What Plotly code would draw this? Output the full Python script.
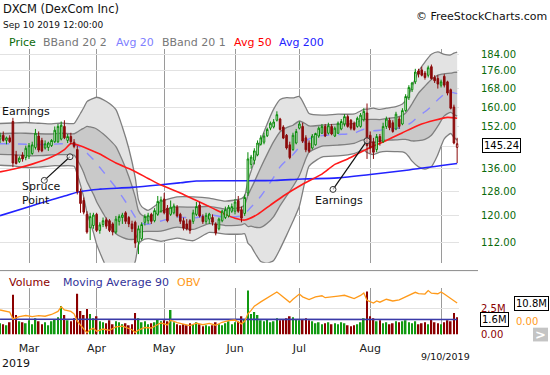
import math
import plotly.graph_objects as go

W, H = 550, 375
FONT = "DejaVu Sans"


def px(x):
    return x / W


def py(y):
    return 1 - y / H


# ---------------- data ----------------
month_idx = [9, 30, 51, 73, 93, 115, 137]
month_lbl = ["Mar", "Apr", "May", "Jun", "Jul", "Aug", ""]
price_ticks = [112, 120, 128, 136, 144, 152, 160, 168, 176, 184]

opens = [147, 148.5, 146.5, 147.5, 154, 141, 138.5, 141, 140, 140.5,
         141.5, 143.8, 148.2, 146.5, 143.6, 143.8, 144.5, 146, 146, 147,
         152, 146.5, 148, 145.8, 143, 128, 125, 120.5, 116.3, 117,
         120.5, 115.5, 117.3, 118.8, 118.5, 117.5, 115, 118.3, 119.5, 121,
         119.5, 117.5, 118, 112, 113, 118, 118.5, 120.5, 118.5, 120.5,
         121.5, 125.5, 122.5, 120.5, 121, 122.8, 120.5, 118.5, 117.5, 118.5,
         118.3, 120.5, 123.5, 119.8, 118.3, 119, 119.5, 117.5, 116, 118.5,
         119.5, 120, 121.5, 121.5, 125, 122, 120.8, 127.5, 137.5, 139,
         141, 145, 145.8, 148.3, 151.3, 151.8, 154.5, 155, 151.8, 148.5,
         144.8, 143, 145.5, 151.3, 152, 147.5, 145.5, 143.6, 144.8, 148.2,
         149.3, 152, 149.3, 152, 148.2, 149.3, 151, 153, 156, 154.5,
         153.3, 152, 152, 154.7, 157.5, 148.5, 146, 143, 148, 146,
         152, 154.5, 153.5, 151, 155, 153, 158.5, 164, 167.5, 171,
         176, 176.5, 175, 174, 178, 173, 172.5, 169.5, 173.5, 171,
         167.5, 160, 143.8]
highs = [149.5, 150, 148, 148.5, 155.5, 142.5, 140.5, 142, 144.5, 145.5,
         146, 151, 150, 147.5, 146.5, 146, 147, 152, 153, 154,
         154.5, 149, 149.5, 147, 144.5, 129, 126, 121.5, 121, 121,
         121, 118, 119.5, 119.5, 119, 118, 120, 120.5, 121, 121.5,
         120, 118.5, 118.5, 117, 118, 120.5, 121, 121, 122.5, 126.5,
         126.3, 127.5, 123.5, 125, 124, 123.5, 121, 119.5, 119, 119,
         122, 124.5, 124.5, 120.5, 121, 121, 120.5, 118, 119.5, 122,
         123, 123.5, 124, 125.5, 126.5, 123, 127, 142, 141, 143.5,
         146.5, 148.5, 149.5, 151.5, 154, 155, 158.2, 155.5, 152.5, 149,
         146, 149.5, 151, 154, 153.5, 148.5, 146.5, 149, 149.5, 152,
         153, 153, 153.5, 153, 152, 154, 155, 157, 156.8, 155,
         154, 156, 157.5, 159.5, 161.5, 150, 147.5, 149, 149, 153.5,
         156, 155.5, 154.5, 158, 156, 159.5, 165.5, 169.5, 171, 177,
         177, 178, 176, 178.5, 179, 174, 174, 172, 174.5, 171.5,
         168, 161, 147.5]
lows = [145.5, 146, 145, 145.5, 136.5, 137.5, 138, 138.5, 139, 139.5,
        141, 143, 142, 142, 143, 142.5, 144, 145.5, 145.5, 146.5,
        147, 145.5, 145, 143.5, 127, 121, 120.5, 114.5, 112.6, 116,
        115, 114.5, 116.5, 116, 115, 114, 114.5, 117, 117.5, 117.5,
        116.5, 115, 110.3, 108.5, 112.5, 117, 117.5, 117.5, 118, 120,
        121, 120.5, 118, 120, 120.5, 119.5, 117.5, 115.5, 115.5, 114.5,
        117.5, 120, 119.5, 117.5, 117.5, 117.5, 117, 114, 115.5, 118,
        119, 119.5, 121, 120.5, 121, 118, 120, 126.5, 136, 137.5,
        140.5, 144.5, 145, 147.8, 150.5, 151.2, 154, 150.3, 147, 143,
        139.4, 142.5, 145, 150.8, 145.5, 142, 141.8, 143, 144.5, 147.5,
        149, 147.8, 148.8, 148.5, 147.8, 149, 150.5, 152, 151.5, 150.5,
        150.3, 151.5, 151.5, 154, 139.5, 141.5, 139.5, 142, 144.5, 145.5,
        151, 150.5, 149.5, 150.5, 151, 152.5, 158, 163, 166.5, 170,
        173, 173.5, 172, 173, 172, 170.5, 168, 168.5, 168.5, 165,
        159, 145, 138]
closes = [148.5, 146.5, 147.5, 146, 138, 137.8, 139.8, 139.5, 143.5, 144.5,
          144.8, 149.3, 142.8, 142.5, 145.2, 145.5, 146.5, 150.5, 152, 152.5,
          147.5, 148, 146, 144.2, 128, 124, 121.2, 115, 119.8, 120.3,
          115.5, 117.2, 118.5, 116.8, 115.5, 115, 119, 119.8, 120.3, 118.3,
          117.5, 116, 111.7, 116, 117.3, 119.8, 120.2, 118.3, 121.7, 124.7,
          125.2, 121, 118.5, 122.8, 123.2, 120, 118.3, 116.2, 116, 115.5,
          121, 123, 120, 118.2, 120.2, 120.6, 118, 114.7, 119, 121.5,
          122, 122.8, 123, 124.5, 121.5, 119.3, 126, 139.5, 140.2, 142.5,
          145.5, 147.5, 148.2, 150.8, 153.3, 153.8, 156.8, 150.8, 147.4, 143.6,
          140, 148.5, 150, 153, 146.2, 142.9, 142.4, 148.2, 149.2, 151.3,
          152, 148.2, 152.3, 149, 151.3, 153.3, 154, 156, 152, 151.3,
          150.8, 155.3, 156.6, 158.2, 144.5, 143.5, 142, 148, 146, 152,
          155, 151.5, 150, 157, 152, 158.5, 164.5, 168.5, 170.5, 175.5,
          174.5, 174, 173, 177.5, 172.5, 171.5, 170, 171, 169.5, 166,
          159.5, 145.5, 145.24]

volume_m = [1.1, 1.0, 0.9, 1.2, 3.9, 1.9, 1.3, 1.2, 1.1, 1.4,
            1.0, 1.6, 1.3, 1.0, 1.2, 0.9, 1.3, 1.5, 1.7, 2.8,
            1.9, 1.4, 1.3, 1.6, 4.0, 2.3, 1.9, 2.5, 2.0, 1.6,
            1.8, 1.3, 1.2, 1.1, 1.4, 1.0, 1.3, 1.2, 1.0, 1.1,
            0.9, 1.0, 2.1, 1.6, 1.2, 1.3, 1.0, 1.1, 1.2, 1.5,
            1.3, 1.4, 1.3, 2.4, 1.2, 1.0, 0.9, 1.0, 0.9, 1.1,
            1.0, 1.2, 1.0, 0.8, 0.9, 0.8, 0.9, 1.2, 1.0, 0.9,
            1.1, 1.3, 1.0, 1.2, 1.3, 1.8, 1.5, 4.3, 2.0, 2.2,
            1.9, 1.4, 1.3, 1.5, 1.2, 1.3, 1.6, 1.4, 1.5, 1.6,
            1.8, 1.7, 1.5, 1.4, 1.5, 1.6, 1.4, 1.3, 1.1, 1.2,
            1.0, 1.1, 1.2, 1.0, 1.1, 1.0, 1.2, 1.1, 0.9, 0.8,
            0.9, 1.0, 1.2, 1.6, 4.2, 1.8, 1.6, 1.3, 1.4, 1.1,
            1.2, 1.0, 1.1, 1.3, 1.2, 1.3, 1.4, 1.2, 1.1, 1.3,
            1.0, 1.1, 1.2, 1.0, 1.5, 1.2, 1.1, 1.0, 1.2, 1.4,
            1.3, 2.1, 1.7]

bb_i = [0, 4, 8, 12, 16, 19, 23, 24, 25, 26, 27, 28, 29, 30, 32, 34, 36, 38, 40,
        42, 43, 44, 46, 50, 55, 60, 65, 70, 75, 76, 77, 78, 79, 81, 83, 85, 87,
        89, 91, 93, 95, 96, 100, 105, 110, 113, 114, 116, 118, 120, 123, 125,
        126, 127, 128, 130, 132, 134, 136, 138, 140, 141, 142]
bb2_up = [153.2, 153.4, 153.6, 153.3, 153.0, 153.4, 153.2, 155.1, 157.4, 159.7,
          162.3, 163.1, 163.7, 164.2, 163.2, 161.5, 158.9, 151.8, 143.4, 132.8,
          125.2, 123.0, 121.8, 124.6, 126.2, 126.2, 125.8, 124.8, 125.6, 126.6,
          131.7, 135.1, 138.7, 146.4, 153.1, 159.1, 163.2, 164.0, 163.9, 164.5,
          159.7, 157.3, 156.6, 157.0, 157.1, 159.0, 159.1, 159.5, 159.0, 159.5,
          160.2, 161.3, 162.8, 165.5, 168.9, 175.8, 180.2, 183.9, 185.1, 183.9,
          183.6, 184.5, 185.0]
bb1_up = [149.2, 149.3, 149.3, 149.1, 149.0, 149.3, 149.1, 149.8, 150.6, 151.3,
          152.0, 151.8, 151.5, 151.0, 149.1, 146.8, 144.1, 139.0, 133.2, 126.2,
          121.7, 120.3, 119.6, 121.5, 122.9, 122.8, 123.1, 122.2, 122.8, 123.6,
          126.7, 129.0, 131.3, 136.4, 141.3, 146.0, 149.9, 151.5, 152.5, 154.2,
          153.0, 152.2, 152.5, 152.9, 153.2, 155.0, 154.8, 154.9, 154.8, 155.2,
          155.7, 156.5, 157.5, 159.2, 161.4, 166.0, 169.1, 172.1, 174.1, 174.7,
          175.0, 175.3, 175.4]
bb_mid = [145.2, 145.2, 145.0, 144.9, 145.0, 145.2, 145.0, 144.5, 143.8, 142.9,
          141.7, 140.5, 139.3, 137.8, 135.0, 132.1, 129.3, 126.2, 123.0, 119.6,
          118.2, 117.7, 117.4, 118.4, 119.7, 119.3, 120.4, 119.6, 120.0, 120.6,
          121.7, 122.9, 123.9, 126.4, 129.5, 132.9, 136.6, 139.0, 141.1, 143.9,
          146.3, 147.1, 148.4, 148.8, 149.3, 150.9, 150.5, 150.3, 150.5, 150.9,
          151.2, 151.7, 152.2, 152.9, 153.8, 156.2, 158.0, 160.3, 163.1, 165.5,
          166.4, 166.1, 165.8]
bb1_lo = [141.2, 141.1, 140.7, 140.7, 141.0, 141.1, 140.9, 139.2, 137.0, 134.5,
          131.4, 129.2, 127.1, 124.6, 120.9, 117.4, 114.5, 113.4, 112.8, 113.0,
          114.7, 115.1, 115.2, 115.3, 116.5, 115.8, 117.6, 117.0, 117.2, 117.6,
          116.7, 116.8, 116.5, 116.4, 117.7, 119.8, 123.3, 126.5, 129.7, 133.5,
          139.6, 142.0, 144.3, 144.7, 145.4, 146.8, 146.2, 145.7, 146.2, 146.6,
          146.7, 146.9, 146.9, 146.6, 146.3, 146.4, 146.9, 148.5, 152.1, 156.3,
          157.8, 156.9, 156.2]
bb2_lo = [137.2, 137.0, 136.4, 136.5, 137.0, 137.0, 136.8, 133.9, 130.2, 126.1,
          121.1, 117.9, 114.9, 111.4, 106.8, 102.7, 99.7, 100.6, 102.6, 106.4,
          111.2, 112.4, 113.0, 112.2, 113.2, 112.4, 114.9, 114.4, 114.4, 114.5,
          111.7, 110.7, 109.1, 106.4, 105.9, 106.7, 110.0, 114.0, 118.3, 123.2,
          132.9, 136.9, 140.2, 140.6, 141.5, 142.8, 141.9, 141.1, 142.0, 142.3,
          142.2, 142.1, 141.6, 140.3, 138.7, 136.6, 135.8, 136.7, 141.1, 147.1,
          149.2, 147.7, 146.6]

sma50_i = [0, 5, 10, 16, 20, 22, 24, 27, 31, 36, 41, 46, 50, 56, 61, 66, 70, 73,
           76, 80, 84, 88, 94, 100, 104, 108, 112, 115, 120, 125, 130, 135, 139, 142]
sma50 = [134.8, 136, 137.6, 140.2, 143, 145.3, 144.8, 143.4, 141.3, 138, 135.5,
         132.5, 130.2, 127.5, 125, 122.5, 120.5, 119.3, 118.7, 120.5, 123.5, 126.5,
         130.5, 134, 137.5, 139.5, 142, 143.8, 146.5, 149.5, 152.5, 154.5, 155.7,
         155.3]
sma200_i = [0, 10, 20, 25, 31, 41, 50, 56, 61, 73, 85, 94, 105, 115, 127, 142]
sma200 = [120.1, 123.3, 126.5, 128, 128.8, 129.4, 130.3, 131, 131.6, 131.7, 131.8,
          132.3, 132.7, 133.9, 135.5, 137.8]

ma90_i = [0, 30, 60, 77, 90, 106, 110, 142]
ma90_m = [1.5, 1.5, 1.47, 1.45, 1.52, 1.5, 1.45, 1.47]

obv_i = [0, 2, 3, 4, 6, 8, 10, 12, 14, 16, 18, 19, 20, 22, 23, 24, 25, 26, 27, 28,
         29, 30, 32, 34, 36, 38, 40, 41, 42, 43, 45, 47, 49, 50, 52, 53, 55, 57,
         59, 61, 63, 65, 67, 69, 71, 73, 75, 76, 77, 78, 79, 81, 83, 85, 86, 87,
         89, 90, 91, 92, 93, 94, 96, 98, 100, 101, 103, 105, 107, 109, 110, 112,
         113, 114, 116, 117, 118, 120, 122, 124, 126, 128, 129, 130, 132, 133,
         134, 136, 137, 138, 139, 140, 141, 142]
obv_m = [6.8, 6.0, 5.6, 1.7, 3.0, 3.6, 3.0, 3.5, 3.2, 4.2, 6.0, 8.7, 6.8, 6.0, 4.6,
         0.4, -2.0, -4.0, -6.4, -4.5, -3.8, -5.5, -4.2, -5.0, -3.0, -2.5, -3.8,
         -4.6, -6.2, -4.8, -3.3, -3.6, -1.6, -0.7, -1.8, 0.9, -0.5, -1.5, -2.2,
         -0.8, -1.7, -0.9, -2.0, -0.3, 0.6, 1.0, -1.2, 0.3, 4.6, 6.6, 9.0, 11.5,
         13.8, 15.8, 17.2, 15.8, 12.7, 11.2, 13.0, 14.6, 16.0, 14.4, 12.8, 14.4,
         15.0, 13.9, 14.2, 14.8, 15.3, 14.0, 13.4, 15.2, 16.6, 12.4, 10.8, 12.0,
         11.3, 13.0, 12.0, 12.6, 14.5, 16.0, 17.0, 16.2, 16.0, 18.0, 16.5, 16.2,
         17.2, 16.0, 14.7, 13.4, 11.8, 10.8]

# ---------------- derived ----------------
n = len(closes)
idx = list(range(n))
prev_close = [opens[0]] + closes[:-1]
up_day = [closes[i] >= prev_close[i] for i in idx]

GREEN = "#078a07"
RED = "#8b0a0a"
VGREEN = "#119911"
VRED = "#8b0000"

fig = go.Figure()

band_line = dict(color="#7f7f7f", width=1.3, shape="spline", smoothing=0.6)
fig.add_trace(go.Scatter(x=bb_i, y=bb2_up, mode="lines", line=band_line,
                         hoverinfo="skip"))
fig.add_trace(go.Scatter(x=bb_i, y=bb2_lo, mode="lines", line=band_line,
                         fill="tonexty", fillcolor="#e3e3e3", hoverinfo="skip"))
fig.add_trace(go.Scatter(x=bb_i, y=bb1_up, mode="lines", line=band_line,
                         hoverinfo="skip"))
fig.add_trace(go.Scatter(x=bb_i, y=bb1_lo, mode="lines", line=band_line,
                         fill="tonexty", fillcolor="#c9c9c9", hoverinfo="skip"))
fig.add_trace(go.Scatter(x=bb_i, y=bb_mid, mode="lines",
                         line=dict(color="#8a8aff", width=1.4, dash="dash",
                                   shape="spline", smoothing=0.6),
                         hoverinfo="skip"))
fig.add_trace(go.Scatter(x=sma200_i, y=sma200, mode="lines",
                         line=dict(color="#2222ff", width=1.6, shape="spline"),
                         hoverinfo="skip"))
fig.add_trace(go.Scatter(x=sma50_i, y=sma50, mode="lines",
                         line=dict(color="#ff1a1a", width=1.6, shape="spline",
                                   smoothing=0.6),
                         hoverinfo="skip"))

# candles live on an overlaying axis so they are drawn above the band fills
for flag, col in ((True, GREEN), (False, RED)):
    sel = [i for i in idx if up_day[i] == flag]
    fig.add_trace(go.Candlestick(
        x=sel,
        open=[opens[i] for i in sel], high=[highs[i] for i in sel],
        low=[lows[i] for i in sel], close=[closes[i] for i in sel],
        increasing=dict(line=dict(color=col, width=1), fillcolor="white"),
        decreasing=dict(line=dict(color=col, width=1), fillcolor=col),
        whiskerwidth=0, hoverinfo="skip", yaxis="y4"))

fig.add_trace(go.Bar(x=idx, y=volume_m,
                     marker=dict(color=[VGREEN if u else VRED for u in up_day],
                                 line=dict(width=0)),
                     width=0.5, xaxis="x2", yaxis="y2", hoverinfo="skip"))
fig.add_trace(go.Scatter(x=ma90_i, y=ma90_m, mode="lines",
                         line=dict(color="#3a3aa8", width=1.6),
                         xaxis="x2", yaxis="y2", hoverinfo="skip"))
fig.add_trace(go.Scatter(x=obv_i, y=obv_m, mode="lines",
                         line=dict(color="#ff9a1a", width=1.3),
                         xaxis="x2", yaxis="y3", hoverinfo="skip"))

XDOM = [0, px(458.6)]
XRANGE = [-0.01, 142.45]
PRANGE = [math.log10(106.05), math.log10(186.41)]
PDOM = [py(267), py(50)]

layout = dict(
    width=W, height=H, margin=dict(l=0, r=0, t=0, b=0),
    paper_bgcolor="white", plot_bgcolor="white", showlegend=False,
    font=dict(family=FONT, size=10, color="#000"),
    xaxis=dict(domain=XDOM, range=XRANGE, tickvals=month_idx,
               showticklabels=False, showgrid=True, gridcolor="#9a9a9a",
               gridwidth=1, zeroline=False, ticks="", anchor="y",
               rangeslider=dict(visible=False)),
    yaxis=dict(domain=PDOM, type="log", range=PRANGE,
               tickvals=price_ticks,
               ticktext=["" if v == 144 else f"{v:.2f}" for v in price_ticks],
               side="right", anchor="free", position=px(480),
               showgrid=True, gridcolor="#e2e2e2", zeroline=False, ticks="",
               tickfont=dict(color="#0a6a0a", size=10, family=FONT)),
    yaxis4=dict(overlaying="y", type="log", range=PRANGE, visible=False,
                showgrid=False, zeroline=False),
    xaxis2=dict(domain=XDOM, range=XRANGE, tickvals=month_idx,
                ticktext=month_lbl, showgrid=True, gridcolor="#9a9a9a",
                zeroline=False, ticks="", anchor="y2", ticklabelstandoff=5,
                tickfont=dict(color="#222", size=11, family=FONT)),
    yaxis2=dict(domain=[py(340), py(293)], range=[0, 4.52],
                tickvals=[0, 2.5], ticktext=["0.00", "2.5M"],
                side="right", anchor="free", position=px(480),
                showgrid=True, gridcolor="#e2e2e2", zeroline=False, ticks="",
                tickfont=dict(color="#8b0000", size=10, family=FONT)),
    yaxis3=dict(overlaying="y2", range=[-7.39, 19.32], showticklabels=False,
                showgrid=False, zeroline=False, ticks="", side="right"),
)
fig.update_layout(**layout)

ann = []


def text(x, y, s, color="#000", size=11, xanchor="left", **kw):
    d = dict(x=px(x), y=py(y), xref="paper", yref="paper", text=s,
             showarrow=False, xanchor=xanchor, yanchor="middle",
             font=dict(family=FONT, size=size, color=color))
    d.update(kw)
    ann.append(d)


text(1, 9.5, "DXCM (DexCom Inc)", size=11.5, color="#111")
text(1, 25, "Sep 10 2019 12:00:00", size=9, color="#111")
text(549, 17, "© FreeStockCharts.com", size=11, color="#111", xanchor="right")

legend = [(7, "Price", "#0a6a0a"), (41, "BBand 20 2", "#777777"),
          (114, "Avg 20", "#8080ff"), (160, "BBand 20 1", "#777777"),
          (232, "Avg 50", "#ff0000"), (277, "Avg 200", "#2222ff")]
for x, s, c in legend:
    text(x, 43, s, color=c)

vleg = [(7, "Volume", "#8b0000"), (61, "Moving Average 90", "#333399"),
        (175, "OBV", "#ff9a1a")]
for x, s, c in vleg:
    text(x, 287, s, color=c)

text(0, 113, "Earnings", color="#111")
text(20, 197, "Spruce<br>Point", color="#111", align="left")
text(339, 204, "Earnings", xanchor="center", color="#111")
text(445, 362, "9/10/2019", size=9.5, xanchor="center", color="#111")
text(0, 369, "2019", color="#111")
text(514, 327, "0.00", size=10, color="#ff9a1a")

box = dict(bordercolor="#000", borderwidth=1, bgcolor="white", borderpad=1)
text(482, 148, "145.24", size=10, **box)
text(480, 324.5, "1.6M", size=10, **box)
text(549, 308.5, "10.8M", size=10, xanchor="right", **box)
text(540.5, 340, "<b>&gt;</b>", size=13, color="white", xanchor="center")

fig.update_layout(annotations=ann)

shapes = [
    dict(type="line", xref="paper", yref="paper", x0=0, x1=px(478),
         y0=py(275), y1=py(275), line=dict(color="#8a8a8a", width=1)),
    dict(type="rect", xref="paper", yref="paper", x0=px(533), x1=px(548),
         y0=py(347), y1=py(333), fillcolor="#c4c4c4", line=dict(width=0),
         layer="below"),
]
for (x0, y0, x1, y1) in [(44.3, 183.3, 70, 159.3), (333, 192.5, 367, 143)]:
    shapes.append(dict(type="line", xref="paper", yref="paper",
                       x0=px(x0), y0=py(y0), x1=px(x1), y1=py(y1),
                       line=dict(color="#111", width=1.2)))
    for (cx, cy) in [(x0, y0), (x1, y1)]:
        shapes.append(dict(type="circle", xref="paper", yref="paper",
                           x0=px(cx - 3), x1=px(cx + 3), y0=py(cy + 3),
                           y1=py(cy - 3), line=dict(color="#333", width=1),
                           fillcolor="rgba(255,255,255,0.6)"))
fig.update_layout(shapes=shapes)

# the page's default 8px body margin would shift the 550x375 figure; remove it
fig.write_html("out.html",
               config={"displayModeBar": False},
               post_script="document.body.style.margin='0px';"
                           "document.body.style.padding='0px';")
